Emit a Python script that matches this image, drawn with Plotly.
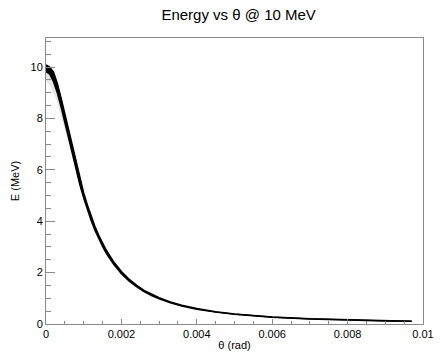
import plotly.graph_objects as go

# --- data ---
theta = [0, 0.0001, 0.0002, 0.0003, 0.0004, 0.0005, 0.0006, 0.0007, 0.0008, 0.0009,
         0.001, 0.0011, 0.0012, 0.0013, 0.0014, 0.0015, 0.0016, 0.0018, 0.002, 0.0022,
         0.0024, 0.0026, 0.0028, 0.003, 0.0033, 0.0036, 0.004, 0.0045, 0.005, 0.0055,
         0.006, 0.007, 0.008, 0.009, 0.0097]
E_hi = [10.08, 10.0, 9.8, 9.36, 8.8, 8.18, 7.5, 6.85, 6.22, 5.64,
        5.10, 4.62, 4.18, 3.79, 3.45, 3.14, 2.87, 2.41, 2.04, 1.75,
        1.51, 1.31, 1.15, 1.02, 0.857, 0.730, 0.600, 0.480, 0.392, 0.326,
        0.275, 0.204, 0.157, 0.124, 0.106]
E_lo = [9.82, 9.72, 9.43, 9.0, 8.45, 7.84, 7.2, 6.58, 5.98, 5.41,
        4.90, 4.43, 4.02, 3.64, 3.31, 3.02, 2.75, 2.31, 1.96, 1.68,
        1.45, 1.26, 1.11, 0.98, 0.825, 0.702, 0.576, 0.462, 0.378, 0.314,
        0.265, 0.196, 0.151, 0.120, 0.104]
theta_halo = [0, 0.0001, 0.0002, 0.0003, 0.0004, 0.0005, 0.0006]
E_halo_lo = [9.45, 9.3, 9.0, 8.6, 8.05, 7.5, 7.05]
E_halo_hi = [9.82, 9.72, 9.43, 9.0, 8.45, 7.84, 7.2]

x_ticks = [0, 0.002, 0.004, 0.006, 0.008, 0.01]
x_labels = ["0", "0.002", "0.004", "0.006", "0.008", "0.01"]
y_ticks = [0, 2, 4, 6, 8, 10]
y_labels = ["0", "2", "4", "6", "8", "10"]

fig = go.Figure()
# faint halo of outlying points near the top
fig.add_trace(go.Scatter(x=theta_halo, y=E_halo_hi, mode="lines",
                         line=dict(color="rgba(0,0,0,0)", width=0),
                         showlegend=False, hoverinfo="skip"))
fig.add_trace(go.Scatter(x=theta_halo, y=E_halo_lo, mode="lines", fill="tonexty",
                         fillcolor="rgba(0,0,0,0.10)",
                         line=dict(color="rgba(0,0,0,0)", width=0),
                         showlegend=False, hoverinfo="skip"))
# main band
fig.add_trace(go.Scatter(x=theta, y=E_hi, mode="lines",
                         line=dict(color="black", width=1.5),
                         showlegend=False))
fig.add_trace(go.Scatter(x=theta, y=E_lo, mode="lines", fill="tonexty",
                         fillcolor="black",
                         line=dict(color="black", width=1.5),
                         showlegend=False))

axis_font = dict(family="Liberation Sans, Arial, sans-serif", size=11, color="black")

fig.update_layout(
    width=446, height=362,
    margin=dict(l=46, r=13, t=38, b=29),
    paper_bgcolor="white", plot_bgcolor="white",
    title=dict(text="Energy vs θ @ 10 MeV", x=0.535, xref="container",
               xanchor="center", y=0.958, yref="container", yanchor="middle",
               font=dict(family="Liberation Sans, Arial, sans-serif", size=15, color="black")),
    font=axis_font,
    xaxis=dict(range=[0, 0.01], tickvals=x_ticks, ticktext=x_labels,
               showgrid=False, zeroline=False,
               showline=True, linecolor="#8a8a8a", linewidth=1, mirror=True,
               ticks="inside", ticklen=5, tickcolor="#8a8a8a", tickwidth=1,
               minor=dict(dtick=0.0005, ticks="inside", ticklen=3,
                          tickcolor="#8a8a8a", showgrid=False),
               title=dict(text="θ (rad)", standoff=2, font=axis_font),
               tickfont=axis_font),
    yaxis=dict(range=[0, 11.13], tickvals=y_ticks, ticktext=y_labels,
               showgrid=False, zeroline=False,
               showline=True, linecolor="#8a8a8a", linewidth=1, mirror=True,
               ticks="inside", ticklen=9, tickcolor="#8a8a8a", tickwidth=1,
               minor=dict(dtick=0.5, ticks="inside", ticklen=5,
                          tickcolor="#8a8a8a", showgrid=False),
               title=dict(text="E (MeV)", standoff=8, font=axis_font),
               tickfont=axis_font),
)

fig.write_html("out.html")
